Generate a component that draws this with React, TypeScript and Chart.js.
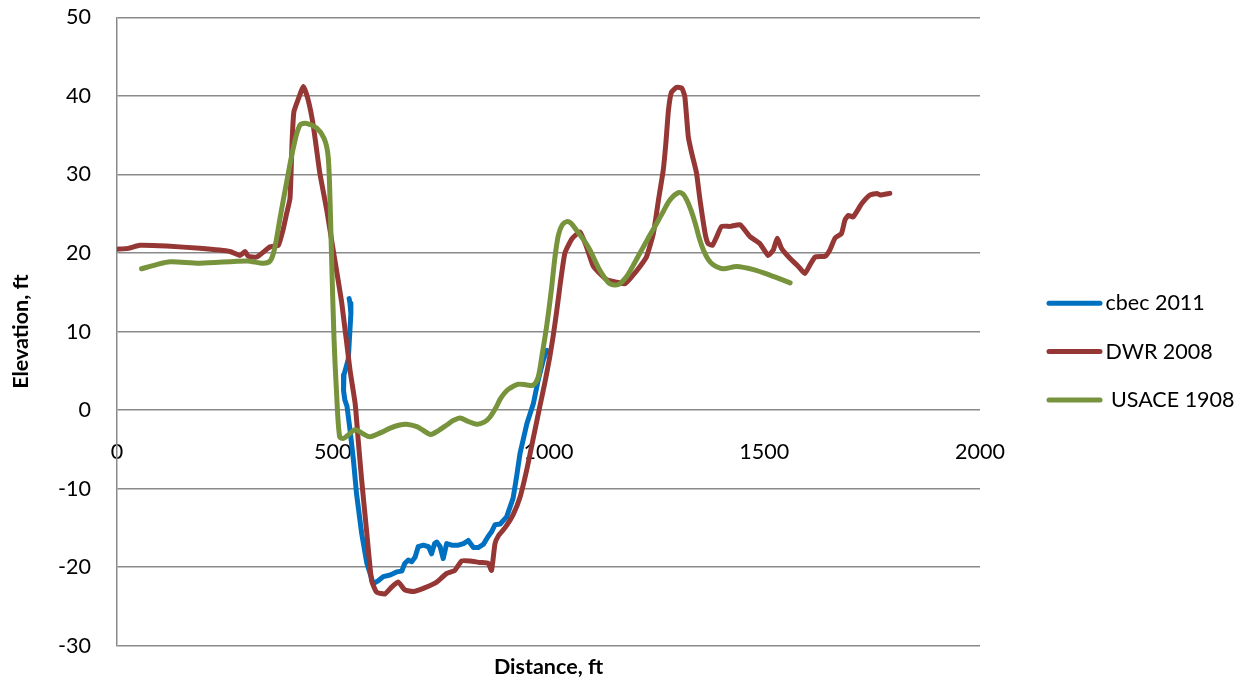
import React, { useEffect, useRef } from 'react';
import { Chart, registerables } from 'chart.js';

Chart.register(...registerables);

// cbec 2011 survey
const cbecDistance = [538, 540, 542, 536, 526, 525, 528, 533, 540, 548, 555, 567, 579, 594, 606, 617, 633, 648, 660, 667, 675, 683, 691, 698, 710, 722, 729, 736, 741, 749, 756, 764, 776, 791, 803, 814, 826, 837, 849, 860, 868, 876, 888, 903, 918, 926, 934, 950, 965, 976, 988, 996];
const cbecElevation = [14.2, 13.6, 12.3, 6.5, 4.5, 2.5, 1.3, 0.5, -2.5, -6.4, -10.6, -15.7, -19.5, -22.1, -21.7, -21.2, -21.0, -20.6, -20.5, -19.5, -19.1, -19.3, -18.7, -17.4, -17.2, -17.4, -18.3, -17.0, -16.8, -17.4, -18.9, -17.0, -17.2, -17.2, -17.0, -16.6, -17.5, -17.5, -17.1, -16.1, -15.5, -14.6, -14.5, -13.6, -11.2, -8.5, -5.5, -1.7, 0.85, 3.8, 6.4, 7.6];

// DWR 2008 survey
const dwrDistance = [0, 26, 53, 115, 192, 262, 285, 297, 304, 324, 355, 374, 385, 393, 401, 406, 410, 420, 432, 443, 455, 470, 486, 501, 521, 540, 552, 559, 567, 579, 590, 602, 621, 637, 652, 667, 687, 710, 741, 764, 783, 799, 818, 841, 860, 868, 876, 884, 899, 918, 934, 950, 965, 980, 992, 1003, 1011, 1019, 1027, 1038, 1054, 1073, 1088, 1104, 1119, 1135, 1158, 1177, 1193, 1212, 1227, 1243, 1255, 1266, 1272, 1278, 1285, 1297, 1309, 1316, 1324, 1332, 1343, 1351, 1363, 1370, 1380, 1390, 1401, 1421, 1444, 1467, 1490, 1509, 1521, 1530, 1540, 1560, 1579, 1594, 1606, 1618, 1641, 1652, 1664, 1679, 1687, 1695, 1706, 1726, 1745, 1761, 1768, 1791];
const dwrElevation = [20.5, 20.6, 21.0, 20.9, 20.6, 20.2, 19.7, 20.2, 19.6, 19.5, 20.8, 21.0, 23.0, 25.0, 27.0, 34.5, 38.0, 39.6, 41.2, 39.5, 36.2, 30.2, 25.5, 20.4, 13.6, 5.1, 0.8, -3.8, -8.9, -15.7, -21.7, -23.2, -23.4, -22.5, -21.9, -22.9, -23.1, -22.7, -21.9, -20.8, -20.4, -19.2, -19.2, -19.4, -19.5, -20.4, -17.0, -16.0, -15.0, -13.3, -11.1, -7.5, -3.5, 0.5, 3.6, 6.8, 9.5, 12.6, 16.0, 20.0, 21.8, 22.7, 20.8, 18.3, 17.4, 16.6, 16.3, 16.1, 17.0, 18.3, 19.5, 22.5, 26.8, 30.6, 34.0, 38.2, 40.5, 41.1, 41.0, 39.9, 34.8, 32.7, 30.2, 26.8, 22.5, 21.2, 21.0, 22.1, 23.4, 23.4, 23.6, 22.1, 21.2, 19.7, 20.4, 21.9, 20.6, 19.3, 18.3, 17.4, 18.5, 19.5, 19.6, 20.4, 21.9, 22.5, 24.2, 24.8, 24.6, 26.3, 27.4, 27.6, 27.4, 27.6];

// USACE 1908 survey
const usaceDistance = [57, 90, 123, 192, 301, 339, 355, 365, 378, 393, 409, 424, 440, 463, 480, 489, 493, 497, 503, 509, 516, 525, 535, 552, 570, 586, 610, 633, 655, 671, 695, 710, 727, 745, 764, 780, 795, 812, 834, 852, 864, 878, 888, 900, 911, 930, 950, 965, 976, 985, 996, 1007, 1015, 1023, 1032, 1042, 1052, 1065, 1080, 1096, 1108, 1119, 1131, 1142, 1162, 1181, 1196, 1212, 1231, 1251, 1267, 1282, 1301, 1312, 1320, 1330, 1340, 1350, 1359, 1370, 1382, 1405, 1436, 1475, 1513, 1560];
const usaceElevation = [18.0, 18.5, 18.9, 18.7, 19.0, 18.7, 19.0, 20.5, 24.5, 29.0, 33.5, 36.3, 36.5, 35.9, 34.6, 32.5, 28.0, 20.0, 9.0, 2.0, -3.4, -3.6, -3.2, -2.5, -3.0, -3.4, -2.9, -2.3, -1.9, -1.8, -2.1, -2.6, -3.1, -2.6, -1.9, -1.3, -1.0, -1.4, -1.8, -1.5, -0.9, 0.3, 1.4, 2.3, 2.8, 3.3, 3.2, 3.2, 4.2, 7.0, 10.8, 15.5, 19.5, 22.3, 23.6, 24.0, 23.8, 22.9, 21.8, 20.4, 19.0, 17.8, 16.8, 16.1, 16.0, 17.0, 18.4, 20.0, 21.9, 23.8, 25.4, 26.8, 27.7, 27.5, 26.8, 25.5, 23.8, 21.8, 20.4, 19.2, 18.5, 18.0, 18.3, 17.9, 17.2, 16.2];

const seriesLabels = ['cbec 2011', 'DWR 2008', ' USACE 1908'];
const seriesColors = ['#0070C0', '#953735', '#77933C'];

const xTicks = { min: 0, max: 2000, step: 500 };
const yTicks = { min: -30, max: 50, step: 10 };

const FONT = 'Lato';
const FS = 21.5;

const toPoints = (xs: number[], ys: number[]) => xs.map((x, i) => ({ x, y: ys[i] }));

const sideLegend = {
  id: 'sideLegend',
  afterDraw(chart: any) {
    const { ctx, chartArea } = chart;
    const x0 = chartArea.right + 69;
    const midY = (chartArea.top + chartArea.bottom) / 2 + 20;
    const gap = 48.3;
    chart.data.datasets.forEach((ds: any, i: number) => {
      const y = midY + (i - 1) * gap;
      ctx.save();
      ctx.strokeStyle = ds.borderColor;
      ctx.lineWidth = 5;
      ctx.lineCap = 'round';
      ctx.beginPath();
      ctx.moveTo(x0, y);
      ctx.lineTo(x0 + 51, y);
      ctx.stroke();
      ctx.fillStyle = '#000';
      ctx.font = `${FS}px ${FONT}`;
      ctx.textBaseline = 'middle';
      ctx.textAlign = 'left';
      ctx.fillText(ds.label, x0 + 56.5, y);
      ctx.restore();
    });
  },
};

export default function App() {
  const ref = useRef<HTMLCanvasElement>(null);
  useEffect(() => {
    if (!ref.current) return;
    const chart = new Chart(ref.current, {
      type: 'scatter',
      data: {
        datasets: [
          { label: seriesLabels[0], data: toPoints(cbecDistance, cbecElevation), borderColor: seriesColors[0], backgroundColor: seriesColors[0], order: 3, tension: 0 },
          { label: seriesLabels[1], data: toPoints(dwrDistance, dwrElevation), borderColor: seriesColors[1], backgroundColor: seriesColors[1], order: 2, tension: 0.15 },
          { label: seriesLabels[2], data: toPoints(usaceDistance, usaceElevation), borderColor: seriesColors[2], backgroundColor: seriesColors[2], order: 1, tension: 0.3 },
        ].map((d) => ({ ...d, showLine: true, pointRadius: 0, pointHoverRadius: 0, borderWidth: 5, borderCapStyle: 'round', borderJoinStyle: 'round' })) as any,
      },
      options: {
        animation: false,
        responsive: true,
        maintainAspectRatio: false,
        layout: { padding: { top: 17.5, right: 277, left: 0, bottom: 0 } },
        plugins: { legend: { display: false }, tooltip: { enabled: false } },
        scales: {
          x: {
            type: 'linear',
            position: { y: 0 } as any,
            min: xTicks.min,
            max: xTicks.max,
            ticks: { stepSize: xTicks.step, padding: 29, color: '#000', font: { family: FONT, size: FS }, callback: (v: any) => String(v) },
            grid: { display: false, drawTicks: false },
            border: { display: false },
          },
          x2: {
            type: 'linear',
            position: 'bottom',
            min: xTicks.min,
            max: xTicks.max,
            ticks: { display: false },
            grid: { display: false, drawTicks: false },
            border: { display: false },
            title: { display: true, text: 'Distance, ft', color: '#000', font: { family: FONT, size: FS, weight: 'bold' }, padding: { top: 8.5, bottom: 3 } },
          },
          y: {
            type: 'linear',
            position: 'left',
            min: yTicks.min,
            max: yTicks.max,
            ticks: { stepSize: yTicks.step, padding: 26, color: '#000', font: { family: FONT, size: FS }, callback: (v: any) => String(v) },
            grid: { color: '#8a8a8a', lineWidth: 1.5, drawTicks: false },
            border: { display: true, color: '#8a8a8a', width: 1.5 },
            title: { display: true, text: 'Elevation, ft', color: '#000', font: { family: FONT, size: FS, weight: 'bold' }, padding: { top: 8.6, bottom: 0 } },
            afterFit: (s: any) => { s.width = 117; s.paddingTop = 0; s.paddingBottom = 0; },
          },
        },
      },
      plugins: [sideLegend],
    });
    return () => chart.destroy();
  }, []);
  return (
    <div style={{ position: 'fixed', left: 0, top: 0, width: 1257, height: 683, background: '#fff' }}>
      <canvas ref={ref} />
    </div>
  );
}
